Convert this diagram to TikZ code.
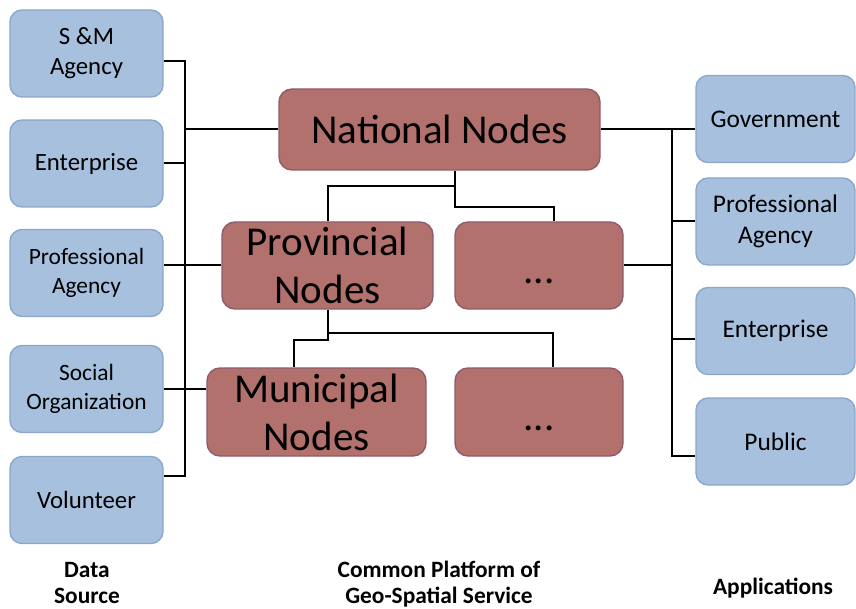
\documentclass[tikz,border=0pt]{standalone}
\usepackage{fontspec}
\setmainfont{Carlito}
\usepackage{tikz}
\usetikzlibrary{positioning}
\definecolor{srcblue}{HTML}{A7C0DE}
\definecolor{srcedge}{HTML}{8CA7C9}
\definecolor{noderose}{HTML}{B3716D}
\definecolor{nodeedge}{HTML}{8E5C6A}

\begin{document}
\begin{tikzpicture}[x=1pt, y=-1pt,
  srcbox/.style={draw=srcedge, fill=srcblue, line width=1.4pt, rounded corners=12pt,
    minimum width=153pt, minimum height=87pt, align=center, inner sep=2pt,
    font=\fontsize{24.8}{30}\selectfont},
  appbox/.style={srcbox, minimum width=159pt, font=\fontsize{25.4}{31}\selectfont},
  tier/.style={draw=nodeedge, fill=noderose, line width=1.4pt, rounded corners=13pt,
    align=center, inner sep=0pt, font=\fontsize{41}{48}\selectfont},
  more/.style={tier, text height=40pt, text depth=4pt},
  link/.style={line width=2pt},
  caption/.style={align=center, font=\bfseries\fontsize{23.4}{26}\selectfont},
]
  \useasboundingbox (0,0) rectangle (856,609);

  % Data sources
  \node[srcbox] (srcSM) at (86.5,53.5) {S \&M\\Agency};
  \node[srcbox] (srcEnt) at (86.5,163.5) {Enterprise};
  \node[srcbox, font=\fontsize{23.4}{29}\selectfont] (srcProf) at (86.5,273) {Professional\\Agency};
  \node[srcbox, font=\fontsize{23.4}{29}\selectfont] (srcSoc) at (86.5,389) {Social\\Organization};
  \node[srcbox] (srcVol) at (86.5,500) {Volunteer};

  % Applications
  \node[appbox] (appGov) at (775.5,119) {Government};
  \node[appbox] (appProf) at (775.5,221.5) {Professional\\Agency};
  \node[appbox] (appEnt) at (775.5,331) {Enterprise};
  \node[appbox] (appPub) at (775.5,441.5) {Public};

  % Platform tiers
  \node[tier, minimum width=321pt, minimum height=81pt] (national) at (439.5,129.5) {National Nodes};
  \node[tier, minimum width=211pt, minimum height=87pt] (provincial) at (327.5,265.5) {Provincial\\Nodes};
  \node[more, minimum width=168pt, minimum height=87pt] (provOther) at (539,265.5) {...};
  \node[tier, minimum width=219pt, minimum height=88pt] (municipal) at (316.5,412) {Municipal\\Nodes};
  \node[more, minimum width=168pt, minimum height=88pt] (muniOther) at (539,412) {...};

  % Captions
  \node[caption] (capSrc) at (87,583) {Data\\Source};
  \node[caption] (capPlat) at (439,584) {Common Platform of\\Geo-Spatial Service};
  \node[caption] (capApp) at (773,588) {Applications};

  % Buses
  \coordinate (lbus) at (185,0);
  \coordinate (rbus) at (672,0);

  % Left side
  \draw[link] ([yshift=-7.5pt]srcSM.east) -| ([yshift=24pt]srcVol.east -| lbus) -- ([yshift=24pt]srcVol.east);
  \draw[link] (srcEnt.east) -- (srcEnt.east -| lbus);
  \draw[link] (national.west) -- (national.west -| lbus);
  \draw[link] (provincial.west) -- (provincial.west -| srcProf.east);
  \draw[link] (srcSoc.east) -- (srcSoc.east -| municipal.west);

  % Right side
  \draw[link] (national.east) -- (national.east -| appGov.west);
  \draw[link] (national.east -| rbus) |- ([yshift=-14.5pt]appPub.west);
  \draw[link] (appProf.west) -- (appProf.west -| rbus);
  \draw[link] ([yshift=-8pt]appEnt.west) -- ([yshift=-8pt]appEnt.west -| rbus);
  \draw[link] (provOther.east) -- (provOther.east -| rbus);

  % Tree
  \coordinate (natdrop) at ([xshift=15.5pt]national.south);
  \draw[link] (natdrop) -- ++(0,15) -| (provincial.north);
  \draw[link] (natdrop) -- ++(0,36) -| ([xshift=15pt]provOther.north);
  \draw[link] (provincial.south) -- ++(0,23) -| ([xshift=14pt]muniOther.north);
  \draw[link] (provincial.south) -- ++(0,30) -| ([xshift=-22.5pt]municipal.north);
\end{tikzpicture}
\end{document}
